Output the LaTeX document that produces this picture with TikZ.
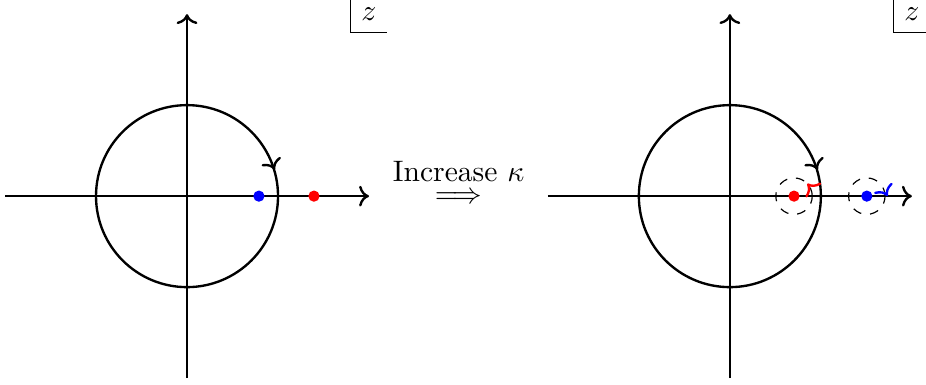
\documentclass[tikz,border=0pt]{standalone}
\usetikzlibrary{positioning, arrows.meta, decorations.markings, calc}
\tikzset{
  axis/.style    = {thick, ->},
  contour/.style = {thick, postaction={decorate},
                    decoration={markings, mark=at position 0.064 with {\arrow{<}}}},
  ccwloop/.style = {dashed, postaction={decorate},
                    decoration={markings, mark=at position 0.12 with {\arrow[red, thick]{>}}}},
  cwloop/.style  = {dashed, postaction={decorate},
                    decoration={markings, mark=at position 0.08 with {\arrow[blue, thick]{<}}}},
  pt/.style      = {circle, fill, inner sep=0pt, minimum size=3.8pt},
  plane/.style   = {inner sep=1pt},
}

\begin{document}
\begin{tikzpicture}[x=0.54cm, y=0.54cm]
\useasboundingbox (-4.11,-4.15) rectangle (16.24,4.31);

% Left plane: before
\coordinate (ol) at (0,0);
\draw [axis] (-4,0) -- (4,0);
\draw [axis] (0,-4) -- (0,4);
\draw [contour] (ol) circle [radius=2];
\node (bl) [pt, blue] at (1.58,0) {};
\node (rl) [pt, red] at (2.79,0) {};
\node (zl) [plane] at (4,4) {$z$};
\draw (3.6,4.4) -- (3.6,3.6) -- (4.4,3.6);

% Middle: the step between the two
\node (inc) [anchor=base, align=center, inner sep=0pt] at (5.97,-0.17)
  {Increase $\kappa$\\[-4.5pt]$\Longrightarrow$};

% Right plane: after
\coordinate (or) at (11.93,0);
\coordinate (cr) at ($(or)+(1.41,0)$);
\coordinate (cb) at ($(or)+(3.01,0)$);
\draw [axis] ($(or)+(-4,0)$) -- ($(or)+(4,0)$);
\draw [axis] ($(or)+(0,-4)$) -- ($(or)+(0,4)$);
\draw [contour] (or) circle [radius=2];
\draw [ccwloop] (cr) circle [radius=0.4];
\draw [cwloop] (cb) circle [radius=0.4];
\node (rr) [pt, red] at (cr) {};
\node (br) [pt, blue] at (cb) {};
\node (zr) [plane] at ($(or)+(4,4)$) {$z$};
\draw ($(or)+(3.6,4.4)$) -- ($(or)+(3.6,3.6)$) -- ($(or)+(4.4,3.6)$);

\end{tikzpicture}
\end{document}
